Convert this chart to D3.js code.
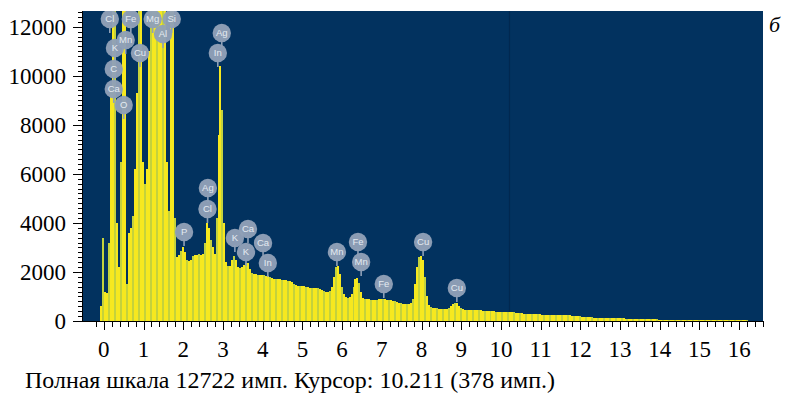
<!DOCTYPE html>
<html><head><meta charset="utf-8">
<script src="https://cdn.jsdelivr.net/npm/d3@7"></script>
<style>body{margin:0;background:#fff}svg{display:block}</style>
</head><body><svg id="c" width="785" height="394"></svg>
<script>
// ---- data ----
const E_START = -0.05;   // keV, first channel centre
const E_STEP = 0.05;     // keV per channel
const counts = [
  // -0.05 .. 0.95
  600, 3400, 1200, 1150, 3200, 9500, 30000, 21000, 4000, 2200, 6500, 26000, 14000, 1500, 3600, 3800, 4300, 6200, 9300, 21000, 24000,
  // 1.00 .. 1.95
  6500, 5600, 6200, 11000, 15000, 21000, 16000, 14500, 16000, 21000, 23000, 15000, 6500, 4500, 17000, 21000, 4200, 2600, 2700, 2850,
  // 2.00 .. 2.95
  3000, 2800, 2500, 2450, 2500, 2650, 2700, 2680, 2720, 2700, 2750, 3200, 4000, 3800, 3300, 3000, 2750, 4200, 7600, 10400,
  // 3.00 .. 3.95
  8600, 4000, 2400, 2250, 2250, 2500, 2660, 2500, 2200, 2170, 2200, 2300, 2370, 2350, 2100, 1950, 1920, 1900, 1890, 1880,
  // 4.00 .. 4.95
  1880, 1870, 1850, 1840, 1800, 1760, 1730, 1720, 1720, 1700, 1690, 1670, 1660, 1650, 1620, 1570, 1500, 1460, 1440, 1430,
  // 5.00 .. 5.95
  1430, 1420, 1400, 1380, 1360, 1350, 1350, 1340, 1330, 1310, 1280, 1240, 1200, 1190, 1220, 1400, 1800, 2200, 2250, 1900,
  // 6.00 .. 6.95
  1400, 1100, 980, 955, 960, 1100, 1400, 1700, 1770, 1550, 1200, 950, 900, 890, 880, 875, 870, 870, 865, 880,
  // 7.00 .. 7.95
  900, 910, 890, 860, 850, 840, 820, 800, 770, 740, 720, 710, 700, 700, 690, 720, 900, 1500, 2200, 2600,
  // 8.00 .. 8.95
  2660, 2500, 1800, 1000, 650, 560, 530, 520, 510, 500, 495, 490, 490, 495, 520, 600, 700, 740, 720, 620,
  // 9.00 .. 9.95
  520, 470, 460, 455, 450, 450, 445, 440, 440, 435, 430, 420, 410, 405, 400, 395, 390, 390, 385, 385,
  // 10.00 .. 10.95
  380, 380, 378, 378, 378, 370, 360, 350, 340, 330, 320, 310, 300, 295, 290, 290, 285, 280, 280, 275,
  // 11.00 .. 11.95
  270, 265, 262, 258, 255, 252, 250, 248, 245, 242, 240, 238, 235, 232, 228, 225, 220, 212, 205, 198,
  // 12.00 .. 12.95
  190, 180, 172, 165, 158, 150, 145, 140, 135, 130, 128, 126, 124, 122, 120, 118, 116, 114, 112, 110,
  // 13.00 .. 13.95
  108, 105, 102, 100, 97, 94, 90, 87, 84, 82, 80, 78, 76, 74, 72, 70, 68, 66, 64, 62,
  // 14.00 .. 14.95
  60, 58, 56, 54, 52, 50, 49, 48, 47, 46, 45, 44, 43, 42, 41, 40, 39, 38, 37, 36,
  // 15.00 .. 15.95
  35, 34, 33, 32, 31, 30, 30, 29, 29, 28, 28, 27, 27, 26, 26, 25, 25, 24, 24, 23,
  // 16.00 .. 16.60
  23, 22, 22, 21, 21, 20, 20, 20, 19, 19, 18, 18, 18
];
const peakElements   = ["Cl","Fe","Mg","Si","Al","K","Mn","Cu","C","Ca","O","Ag","In","Ag","Cl","P","K","Ca","K","Ca","In","Mn","Fe","Mn","Fe","Cu","Cu"];
const peakEnergies   = [0.15,0.68,1.23,1.71,1.49,0.28,0.55,0.91,0.25,0.25,0.50,2.97,2.87,2.62,2.61,2.02,3.30,3.63,3.58,4.01,4.13,5.87,6.40,6.48,7.05,8.04,8.89];
const peakLabelCounts= [12314,12314,12314,12314,11702,11132,11458,10928,10275,9460,8807,11743,10928,5423,4567,3629,3384,3751,2813,3180,2365,2813,3221,2406,1509,3221,1346];
const yTickValues = [0, 2000, 4000, 6000, 8000, 10000, 12000];
const xTickValues = [0,1,2,3,4,5,6,7,8,9,10,11,12,13,14,15,16];
const fullScale = 12722;
const cursorEnergy = 10.211;
const cursorCounts = 378;
const panelLetter = "б";

// ---- layout ----
const svg = d3.select("#c");
const L = 82, R = 763, T = 11, B = 321;
const x = d3.scaleLinear().domain([-0.55, 16.6]).range([L, R]);
const y = d3.scaleLinear().domain([0, 12640]).range([B, T]).clamp(true);
const serif = "Liberation Serif, Times New Roman, serif";

svg.append("defs").append("clipPath").attr("id","plot")
  .append("rect").attr("x",L).attr("y",T).attr("width",R-L).attr("height",B-T);

svg.append("rect").attr("x",L+1).attr("y",T).attr("width",R-L-1).attr("height",B-T)
  .attr("fill","#02325f");

const g = svg.append("g").attr("clip-path","url(#plot)");

// cursor line
g.append("line").attr("x1",Math.round(x(cursorEnergy))+0.5).attr("x2",Math.round(x(cursorEnergy))+0.5)
  .attr("y1",T).attr("y2",B).attr("stroke","#012850").attr("stroke-width",1.2);

// spectrum bars
const chan = counts.map((c,i)=>({e: E_START + i*E_STEP, c, i}));
g.selectAll("rect.bar").data(chan).join("rect")
  .attr("class","bar")
  .attr("shape-rendering","crispEdges")
  .attr("x", d => Math.floor(x(d.e - E_STEP/2)))
  .attr("width", d => Math.floor(x(d.e + E_STEP/2)) - Math.floor(x(d.e - E_STEP/2)))
  .attr("y", d => Math.round(y(d.c)))
  .attr("height", d => B - Math.round(y(d.c)))
  .attr("fill", d => d.i % 3 === 1 ? "#c4d23c" : "#f6e81f");

// peak labels
const lab = g.selectAll("g.lab").data(peakElements.map((el,i)=>({el, e: peakEnergies[i], c: peakLabelCounts[i]})))
  .join("g").attr("class","lab")
  .attr("transform", d => `translate(${x(d.e)},${y(d.c)})`);
lab.append("line").attr("x1",0).attr("x2",0).attr("y1",7).attr("y2",14)
  .attr("stroke","#8fa0b7").attr("stroke-width",1.6);
lab.append("circle").attr("r",9.2).attr("fill","#8fa0b7").attr("fill-opacity",0.97);
lab.append("text").text(d=>d.el)
  .attr("text-anchor","middle").attr("dy","0.36em")
  .attr("font-family","Liberation Sans, Arial, sans-serif").attr("font-size",9.5)
  .attr("fill","#e4eaf1");

// y axis
const yMinor = d3.range(0, 12700, 200);
const yAx = svg.append("g").attr("transform",`translate(${L},0)`);
yAx.append("line").attr("x1",0.5).attr("x2",0.5).attr("y1",T).attr("y2",B).attr("stroke","#000");
yAx.selectAll("line.mi").data(yMinor).join("line").attr("class","mi")
  .attr("x1",-4).attr("x2",0).attr("y1",d=>Math.round(y(d))+0.5).attr("y2",d=>Math.round(y(d))+0.5)
  .attr("stroke","#000");
yAx.selectAll("line.ma").data(yTickValues).join("line").attr("class","ma")
  .attr("x1",-9).attr("x2",0).attr("y1",d=>Math.round(y(d))+0.5).attr("y2",d=>Math.round(y(d))+0.5)
  .attr("stroke","#000");
yAx.selectAll("text").data(yTickValues).join("text")
  .attr("x",-16).attr("y",d=>y(d)).attr("dy","0.35em").attr("text-anchor","end")
  .style("font-family",serif).style("font-size","23px").attr("fill","#000").text(d=>d);

// x axis
const xMinor = d3.range(-1, 84).map(k => k*0.2);
const xAx = svg.append("g").attr("transform",`translate(0,${B})`);
xAx.append("line").attr("x1",L).attr("x2",R).attr("y1",0.5).attr("y2",0.5).attr("stroke","#000");
xAx.selectAll("line.mi").data(xMinor).join("line").attr("class","mi")
  .attr("x1",d=>Math.round(x(d))+0.5).attr("x2",d=>Math.round(x(d))+0.5).attr("y1",0).attr("y2",6).attr("stroke","#000");
xAx.selectAll("line.ma").data(xTickValues).join("line").attr("class","ma")
  .attr("x1",d=>Math.round(x(d))+0.5).attr("x2",d=>Math.round(x(d))+0.5).attr("y1",0).attr("y2",9).attr("stroke","#000");
xAx.selectAll("text").data(xTickValues).join("text")
  .attr("x",d=>x(d)).attr("y",36).attr("text-anchor","middle")
  .style("font-family",serif).style("font-size","23px").attr("fill","#000").text(d=>d);

// caption
svg.append("text").attr("x",25).attr("y",388)
  .attr("textLength",530).attr("lengthAdjust","spacingAndGlyphs")
  .style("font-family",serif).style("font-size","23px").attr("fill","#000")
  .text(`Полная шкала ${fullScale} имп. Курсор: ${cursorEnergy} (${cursorCounts} имп.)`);

svg.append("text").attr("x",769).attr("y",32)
  .style("font-family",serif).style("font-style","italic").style("font-size","22px").attr("fill","#000")
  .text(panelLetter);
</script></body></html>
